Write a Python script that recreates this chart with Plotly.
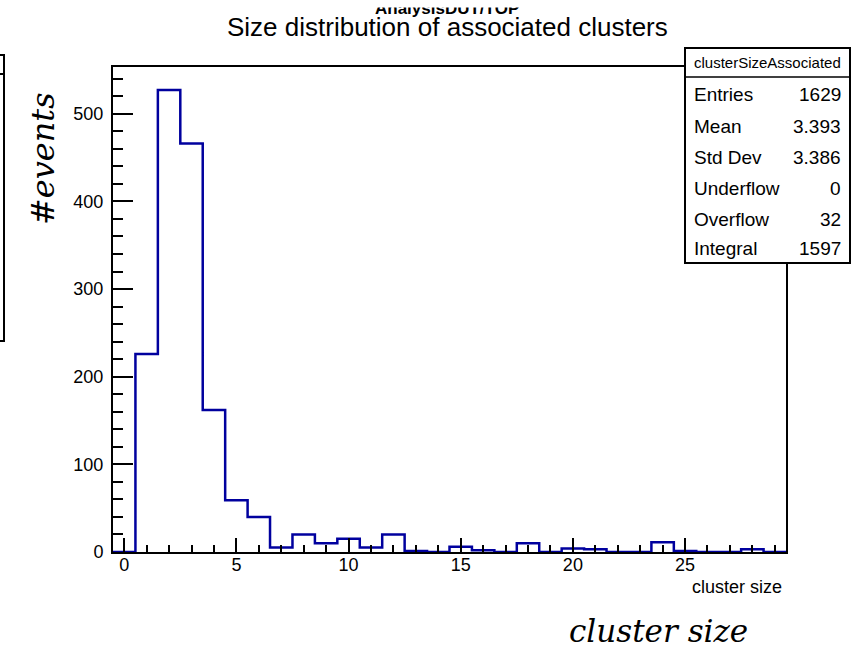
import plotly.graph_objects as go

# Histogram: cluster size of associated clusters, unit bins centred on integers
bin_low = -0.5
bin_width = 1.0
counts = [0, 226, 527, 466, 162, 59, 40, 5, 20, 10,
          15, 5, 20, 1, 0, 6, 2, 0, 10, 0,
          4, 3, 0, 0, 11, 1, 0, 0, 3, 0]

stat_names = ["Entries", "Mean", "Std Dev", "Underflow", "Overflow", "Integral"]
stat_values = ["1629", "3.393", "3.386", "0", "32", "1597"]

hist_name = "clusterSizeAssociated"
title_text = "Size distribution of associated clusters"
folder_text = "AnalysisDUT/TOP"

W, H = 851, 649
L, R, T, B = 113, 786, 67, 552   # plot frame in pixels


def fx(px):
    return (px - L) / (R - L)


def fy(py):
    return (B - py) / (B - T)


# step outline built from bin edges
edges = [bin_low + i * bin_width for i in range(len(counts) + 1)]
step_y = counts + [counts[-1]]

blue = "#00009e"
sans = "Liberation Sans, Arial, Helvetica, sans-serif"
serif = "DejaVu Serif, serif"

fig = go.Figure()
fig.add_trace(go.Scatter(
    x=edges, y=step_y, mode="lines", line=dict(color=blue, width=2.5, shape="hv"),
    hoverinfo="skip", showlegend=False,
))

ymax = max(counts) * 1.05

fig.update_layout(
    width=W, height=H,
    margin=dict(l=L, r=W - R, t=T, b=H - B, pad=0),
    paper_bgcolor="white", plot_bgcolor="white",
    showlegend=False,
    xaxis=dict(
        range=[edges[0], edges[-1]], tick0=0, dtick=5,
        ticks="inside", ticklen=14, tickwidth=2, tickcolor="black",
        minor=dict(dtick=1, tick0=0, ticks="inside", ticklen=7, tickwidth=2, tickcolor="black"),
        showline=True, linecolor="black", linewidth=2, mirror=True,
        showgrid=False, zeroline=False,
        tickfont=dict(family=sans, size=18, color="black"),
        ticklabelstandoff=-5,
    ),
    yaxis=dict(
        range=[0, ymax], tick0=0, dtick=100,
        ticks="inside", ticklen=20, tickwidth=2, tickcolor="black",
        minor=dict(dtick=20, tick0=0, ticks="inside", ticklen=10, tickwidth=2, tickcolor="black"),
        showline=True, linecolor="black", linewidth=2, mirror=True,
        showgrid=False, zeroline=False,
        tickfont=dict(family=sans, size=18, color="black"),
        ticklabelstandoff=4,
    ),
)

shapes = []
# statistics box (white fill hides the frame corner)
shapes.append(dict(type="rect", xref="paper", yref="paper",
                   x0=fx(685), x1=fx(850), y0=fy(263), y1=fy(48),
                   line=dict(color="black", width=2), fillcolor="white", layer="above"))
shapes.append(dict(type="line", xref="paper", yref="paper",
                   x0=fx(685), x1=fx(850), y0=fy(77), y1=fy(77),
                   line=dict(color="black", width=1.5), layer="above"))
# edge of a neighbouring box at the far left
shapes.append(dict(type="path", xref="paper", yref="paper",
                   path="M {a},{b} L {c},{b} L {c},{d} L {a},{d}".format(
                       a=fx(0), b=fy(55), c=fx(4), d=fy(341)),
                   line=dict(color="black", width=2), layer="above"))
shapes.append(dict(type="line", xref="paper", yref="paper",
                   x0=fx(0), x1=fx(4), y0=fy(74), y1=fy(74),
                   line=dict(color="black", width=2), layer="above"))

ann = []
# folder label, partly hidden at the top
ann.append(dict(text="<b>" + folder_text + "</b>", xref="paper", yref="paper",
                x=fx(447), y=fy(15), xanchor="center", yanchor="bottom", showarrow=False,
                font=dict(family=sans, size=17, color="black"), borderpad=0, yshift=-4))
ann.append(dict(text=" ", xref="paper", yref="paper", x=fx(447), y=fy(-2),
                xanchor="center", yanchor="top", showarrow=False, width=170, height=8,
                bgcolor="white", borderpad=0, font=dict(size=1)))
ann.append(dict(text=title_text, xref="paper", yref="paper", x=fx(447), y=fy(27),
                xanchor="center", yanchor="middle", showarrow=False,
                font=dict(family=sans, size=26, color="black")))
# stats box contents
ann.append(dict(text=hist_name, xref="paper", yref="paper", x=fx(767), y=fy(62),
                xanchor="center", yanchor="middle", showarrow=False,
                font=dict(family=sans, size=15, color="black")))
row_y = [94, 126, 157, 188, 219, 248]
for name, val, py in zip(stat_names, stat_values, row_y):
    ann.append(dict(text=name, xref="paper", yref="paper", x=fx(692), y=fy(py),
                    xanchor="left", yanchor="middle", showarrow=False,
                    font=dict(family=sans, size=19, color="black")))
    ann.append(dict(text=val, xref="paper", yref="paper", x=fx(843), y=fy(py),
                    xanchor="right", yanchor="middle", showarrow=False,
                    font=dict(family=sans, size=19, color="black")))
# small axis title under the frame
ann.append(dict(text="cluster size", xref="paper", yref="paper", x=fx(784), y=fy(587),
                xanchor="right", yanchor="middle", showarrow=False,
                font=dict(family=sans, size=18, color="black")))
# large italic axis labels
ann.append(dict(text="<i>cluster size</i>", xref="paper", yref="paper", x=fx(658), y=fy(631),
                xanchor="center", yanchor="middle", showarrow=False,
                font=dict(family=serif, size=31, color="black")))
ann.append(dict(text="<i>#events</i>", xref="paper", yref="paper", x=fx(43), y=fy(159),
                xanchor="center", yanchor="middle", showarrow=False, textangle=-90,
                font=dict(family=serif, size=32, color="black")))

fig.update_layout(shapes=shapes, annotations=ann)
fig.write_html("out.html")
